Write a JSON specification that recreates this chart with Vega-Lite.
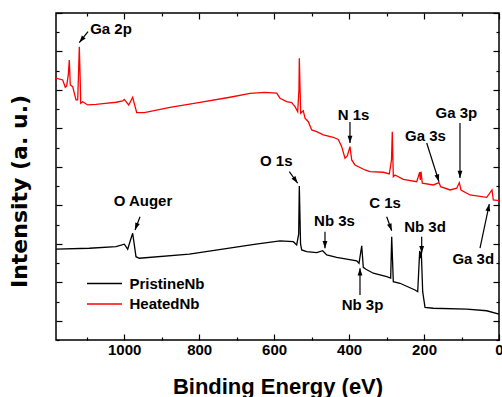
{
  "$schema": "https://vega.github.io/schema/vega-lite/v6.json",
  "width": 443,
  "height": 327,
  "autosize": {"type": "none"},
  "padding": {"left": 56, "top": 13, "right": 3, "bottom": 57},
  "background": "white",
  "config": {
    "view": {"stroke": "black", "strokeWidth": 1.5},
    "axis": {"tickColor": "black", "tickWidth": 1.2, "domain": false, "grid": false}
  },
  "datasets": {
    "spectra": [
      {"s": "HeatedNb", "E": 1182.0, "I": 13.61},
      {"s": "HeatedNb", "E": 1164.1, "I": 13.52},
      {"s": "HeatedNb", "E": 1157.2, "I": 13.14},
      {"s": "HeatedNb", "E": 1153.5, "I": 13.21},
      {"s": "HeatedNb", "E": 1149.2, "I": 13.78},
      {"s": "HeatedNb", "E": 1146.5, "I": 14.56},
      {"s": "HeatedNb", "E": 1143.9, "I": 13.26},
      {"s": "HeatedNb", "E": 1137.5, "I": 13.17},
      {"s": "HeatedNb", "E": 1128.6, "I": 12.48},
      {"s": "HeatedNb", "E": 1124.1, "I": 12.48},
      {"s": "HeatedNb", "E": 1122.0, "I": 13.78},
      {"s": "HeatedNb", "E": 1119.8, "I": 15.25},
      {"s": "HeatedNb", "E": 1117.4, "I": 13.52},
      {"s": "HeatedNb", "E": 1116.1, "I": 12.31},
      {"s": "HeatedNb", "E": 1110.8, "I": 12.39},
      {"s": "HeatedNb", "E": 1097.5, "I": 12.22},
      {"s": "HeatedNb", "E": 1075.3, "I": 12.25},
      {"s": "HeatedNb", "E": 1050.0, "I": 12.3},
      {"s": "HeatedNb", "E": 1021.9, "I": 12.36},
      {"s": "HeatedNb", "E": 1004.1, "I": 12.43},
      {"s": "HeatedNb", "E": 999.8, "I": 12.51},
      {"s": "HeatedNb", "E": 988.0, "I": 12.22},
      {"s": "HeatedNb", "E": 977.4, "I": 12.62},
      {"s": "HeatedNb", "E": 966.7, "I": 11.82},
      {"s": "HeatedNb", "E": 946.4, "I": 11.82},
      {"s": "HeatedNb", "E": 877.8, "I": 12.09},
      {"s": "HeatedNb", "E": 797.8, "I": 12.35},
      {"s": "HeatedNb", "E": 717.8, "I": 12.62},
      {"s": "HeatedNb", "E": 664.4, "I": 12.82},
      {"s": "HeatedNb", "E": 624.4, "I": 12.87},
      {"s": "HeatedNb", "E": 593.1, "I": 12.83},
      {"s": "HeatedNb", "E": 584.3, "I": 12.57},
      {"s": "HeatedNb", "E": 566.5, "I": 12.39},
      {"s": "HeatedNb", "E": 553.1, "I": 12.34},
      {"s": "HeatedNb", "E": 544.3, "I": 12.13},
      {"s": "HeatedNb", "E": 537.1, "I": 11.87},
      {"s": "HeatedNb", "E": 533.8, "I": 13.0},
      {"s": "HeatedNb", "E": 532.8, "I": 14.65},
      {"s": "HeatedNb", "E": 529.1, "I": 11.79},
      {"s": "HeatedNb", "E": 522.2, "I": 11.92},
      {"s": "HeatedNb", "E": 517.6, "I": 11.53},
      {"s": "HeatedNb", "E": 508.8, "I": 11.35},
      {"s": "HeatedNb", "E": 499.8, "I": 10.92},
      {"s": "HeatedNb", "E": 486.4, "I": 10.83},
      {"s": "HeatedNb", "E": 468.8, "I": 10.66},
      {"s": "HeatedNb", "E": 442.1, "I": 10.54},
      {"s": "HeatedNb", "E": 428.8, "I": 10.43},
      {"s": "HeatedNb", "E": 419.7, "I": 10.05},
      {"s": "HeatedNb", "E": 410.9, "I": 9.45},
      {"s": "HeatedNb", "E": 404.8, "I": 9.57},
      {"s": "HeatedNb", "E": 397.6, "I": 10.05},
      {"s": "HeatedNb", "E": 393.0, "I": 9.36},
      {"s": "HeatedNb", "E": 384.2, "I": 9.1},
      {"s": "HeatedNb", "E": 357.5, "I": 8.84},
      {"s": "HeatedNb", "E": 344.2, "I": 8.75},
      {"s": "HeatedNb", "E": 308.7, "I": 8.72},
      {"s": "HeatedNb", "E": 292.7, "I": 8.63},
      {"s": "HeatedNb", "E": 286.8, "I": 9.36},
      {"s": "HeatedNb", "E": 284.7, "I": 10.83},
      {"s": "HeatedNb", "E": 282.0, "I": 8.49},
      {"s": "HeatedNb", "E": 277.5, "I": 8.58},
      {"s": "HeatedNb", "E": 255.3, "I": 8.35},
      {"s": "HeatedNb", "E": 219.6, "I": 8.23},
      {"s": "HeatedNb", "E": 211.6, "I": 8.73},
      {"s": "HeatedNb", "E": 210.0, "I": 8.32},
      {"s": "HeatedNb", "E": 208.1, "I": 8.75},
      {"s": "HeatedNb", "E": 204.7, "I": 8.15},
      {"s": "HeatedNb", "E": 175.3, "I": 8.06},
      {"s": "HeatedNb", "E": 160.1, "I": 8.18},
      {"s": "HeatedNb", "E": 155.6, "I": 7.97},
      {"s": "HeatedNb", "E": 130.7, "I": 7.8},
      {"s": "HeatedNb", "E": 112.9, "I": 7.89},
      {"s": "HeatedNb", "E": 105.9, "I": 8.18},
      {"s": "HeatedNb", "E": 101.4, "I": 7.8},
      {"s": "HeatedNb", "E": 77.4, "I": 7.54},
      {"s": "HeatedNb", "E": 32.8, "I": 7.42},
      {"s": "HeatedNb", "E": 18.7, "I": 7.8},
      {"s": "HeatedNb", "E": 15.2, "I": 7.28},
      {"s": "HeatedNb", "E": 0.0, "I": 7.25},
      {"s": "PristineNb", "E": 1182.0, "I": 4.72},
      {"s": "PristineNb", "E": 1093.2, "I": 4.77},
      {"s": "PristineNb", "E": 1021.9, "I": 4.85},
      {"s": "PristineNb", "E": 999.8, "I": 4.98},
      {"s": "PristineNb", "E": 990.7, "I": 4.72},
      {"s": "PristineNb", "E": 983.2, "I": 5.2},
      {"s": "PristineNb", "E": 977.4, "I": 5.55},
      {"s": "PristineNb", "E": 968.6, "I": 4.33},
      {"s": "PristineNb", "E": 959.8, "I": 4.25},
      {"s": "PristineNb", "E": 826.4, "I": 4.46},
      {"s": "PristineNb", "E": 648.4, "I": 4.98},
      {"s": "PristineNb", "E": 584.3, "I": 5.15},
      {"s": "PristineNb", "E": 548.8, "I": 5.11},
      {"s": "PristineNb", "E": 539.8, "I": 4.94},
      {"s": "PristineNb", "E": 534.5, "I": 5.5},
      {"s": "PristineNb", "E": 532.8, "I": 8.01},
      {"s": "PristineNb", "E": 529.5, "I": 5.0},
      {"s": "PristineNb", "E": 526.5, "I": 4.68},
      {"s": "PristineNb", "E": 513.1, "I": 4.59},
      {"s": "PristineNb", "E": 486.4, "I": 4.54},
      {"s": "PristineNb", "E": 470.4, "I": 4.64},
      {"s": "PristineNb", "E": 459.7, "I": 4.42},
      {"s": "PristineNb", "E": 433.1, "I": 4.3},
      {"s": "PristineNb", "E": 379.7, "I": 4.12},
      {"s": "PristineNb", "E": 373.5, "I": 3.99},
      {"s": "PristineNb", "E": 366.3, "I": 4.9},
      {"s": "PristineNb", "E": 362.1, "I": 3.78},
      {"s": "PristineNb", "E": 354.9, "I": 3.68},
      {"s": "PristineNb", "E": 335.4, "I": 3.47},
      {"s": "PristineNb", "E": 299.6, "I": 3.29},
      {"s": "PristineNb", "E": 289.0, "I": 3.22},
      {"s": "PristineNb", "E": 286.3, "I": 5.37},
      {"s": "PristineNb", "E": 282.0, "I": 3.03},
      {"s": "PristineNb", "E": 264.2, "I": 2.95},
      {"s": "PristineNb", "E": 224.1, "I": 2.6},
      {"s": "PristineNb", "E": 216.9, "I": 2.51},
      {"s": "PristineNb", "E": 211.6, "I": 4.63},
      {"s": "PristineNb", "E": 209.5, "I": 4.26},
      {"s": "PristineNb", "E": 207.3, "I": 4.58},
      {"s": "PristineNb", "E": 203.6, "I": 2.51},
      {"s": "PristineNb", "E": 197.4, "I": 1.7},
      {"s": "PristineNb", "E": 175.3, "I": 1.65},
      {"s": "PristineNb", "E": 86.2, "I": 1.6},
      {"s": "PristineNb", "E": 32.8, "I": 1.52},
      {"s": "PristineNb", "E": 0.0, "I": 1.34}
    ],
    "labels": [
      {"t": "Ga 2p", "E": 1035.3, "V": 16.17},
      {"t": "N 1s", "E": 388.2, "V": 11.7},
      {"t": "Ga 3s", "E": 196.1, "V": 10.61},
      {"t": "Ga 3p", "E": 113.9, "V": 11.8},
      {"t": "O 1s", "E": 594.2, "V": 9.31},
      {"t": "Nb 3s", "E": 438.9, "V": 6.2},
      {"t": "C 1s", "E": 304.2, "V": 7.11},
      {"t": "Nb 3d", "E": 197.4, "V": 5.89},
      {"t": "Ga 3d", "E": 68.6, "V": 4.2},
      {"t": "Nb 3p", "E": 364.2, "V": 1.82},
      {"t": "O Auger", "E": 949.9, "V": 7.23}
    ],
    "arrows": [
      {"x1": 1096.6, "y1": 16.03, "x2": 1119.8, "y2": 15.46},
      {"x1": 397.6, "y1": 11.33, "x2": 397.6, "y2": 10.24},
      {"x1": 192.9, "y1": 10.24, "x2": 160.1, "y2": 8.23},
      {"x1": 104.1, "y1": 11.28, "x2": 104.1, "y2": 8.42},
      {"x1": 559.5, "y1": 8.75, "x2": 537.1, "y2": 8.15},
      {"x1": 464.3, "y1": 5.63, "x2": 464.3, "y2": 4.77},
      {"x1": 299.6, "y1": 6.41, "x2": 286.3, "y2": 5.68},
      {"x1": 206.3, "y1": 5.37, "x2": 206.3, "y2": 4.51},
      {"x1": 50.7, "y1": 4.77, "x2": 25.9, "y2": 7.07},
      {"x1": 370.9, "y1": 2.34, "x2": 370.9, "y2": 3.73},
      {"x1": 957.9, "y1": 6.41, "x2": 971.2, "y2": 5.72}
    ]
  },
  "layer": [
    {
      "data": {"name": "spectra"},
      "mark": {"type": "line", "strokeWidth": 1.3},
      "encoding": {
        "x": {
          "field": "E", "type": "quantitative",
          "scale": {"domain": [0, 1182], "reverse": true, "nice": false, "zero": false},
          "axis": {
            "orient": "bottom",
            "values": [0, 100, 200, 300, 400, 500, 600, 700, 800, 900, 1000, 1100],
            "format": "d",
            "tickSize": {"condition": {"test": "datum.value % 200 === 0", "value": -6}, "value": -3},
            "labelExpr": "datum.value % 200 === 0 ? datum.label : ''",
            "labelFont": "Liberation Sans", "labelFontSize": 15, "labelFontWeight": "bold", "labelColor": "black",
            "labelPadding": 8, "labelFlush": false, "labelOverlap": false, "labelBound": false,
            "title": "Binding Energy (eV)",
            "titleFont": "Liberation Sans", "titleFontSize": 22, "titleFontWeight": "bold", "titleColor": "black",
            "titleX": 221.5, "titleY": 46, "titleBaseline": "middle", "titleAlign": "center"
          }
        },
        "y": {
          "field": "I", "type": "quantitative",
          "scale": {"domain": [0, 17], "nice": false, "zero": false},
          "axis": {
            "orient": "left",
            "values": [0, 1, 2, 3, 4, 5, 6, 7, 8, 9, 10, 11, 12, 13, 14, 15, 16, 17],
            "tickSize": {"condition": {"test": "datum.value % 2 === 1", "value": -6}, "value": -3},
            "labels": false,
            "title": "Intensity (a. u.)",
            "titleFont": "DejaVu Sans", "titleFontSize": 22, "titleFontWeight": "bold", "titleColor": "black",
            "titleX": -37, "titleY": 178, "titleAngle": 270, "titleBaseline": "middle", "titleAlign": "center"
          }
        },
        "color": {
          "field": "s", "type": "nominal",
          "scale": {"domain": ["PristineNb", "HeatedNb"], "range": ["#000000", "#ff0000"]},
          "legend": {
            "orient": "none", "legendX": 41, "legendY": 263, "title": null, "padding": 0,
            "symbolType": "M-3.5,0H3.5", "symbolSize": 100, "symbolStrokeWidth": 1.5,
            "labelFont": "Liberation Sans", "labelFontSize": 15, "labelFontWeight": "bold", "labelColor": "black",
            "labelOffset": 17.5, "rowPadding": 4.5
          }
        }
      }
    },
    {
      "data": {"name": "spectra"},
      "mark": {"type": "point", "opacity": 0},
      "encoding": {
        "x": {
          "field": "E", "type": "quantitative",
          "scale": {"domain": [0, 1182], "reverse": true, "nice": false, "zero": false},
          "axis": {
            "orient": "top",
            "values": [0, 100, 200, 300, 400, 500, 600, 700, 800, 900, 1000, 1100],
            "tickSize": {"condition": {"test": "datum.value % 200 === 0", "value": -6}, "value": -3},
            "labels": false, "title": null
          }
        },
        "y": {
          "field": "I", "type": "quantitative",
          "scale": {"domain": [0, 17], "nice": false, "zero": false},
          "axis": {
            "orient": "right",
            "values": [0, 1, 2, 3, 4, 5, 6, 7, 8, 9, 10, 11, 12, 13, 14, 15, 16, 17],
            "tickSize": {"condition": {"test": "datum.value % 2 === 1", "value": -6}, "value": -3},
            "labels": false, "title": null
          }
        }
      }
    },
    {
      "data": {"name": "arrows"},
      "mark": {"type": "rule", "color": "black", "strokeWidth": 1.2},
      "encoding": {
        "x": {"field": "x1", "type": "quantitative", "scale": {"domain": [0, 1182], "reverse": true, "nice": false, "zero": false}, "axis": null},
        "y": {"field": "y1", "type": "quantitative", "scale": {"domain": [0, 17], "nice": false, "zero": false}, "axis": null},
        "x2": {"field": "x2"},
        "y2": {"field": "y2"}
      }
    },
    {
      "data": {"name": "arrows"},
      "transform": [
        {"calculate": "atan2(-(datum.x2 - datum.x1) * 0.3748, (datum.y2 - datum.y1) * 19.235) * 180 / PI", "as": "ang"}
      ],
      "mark": {"type": "point", "shape": "M0,0L-0.8,2.4L0.8,2.4Z", "filled": true, "size": 36, "color": "black", "opacity": 1, "strokeWidth": 0},
      "encoding": {
        "x": {"field": "x2", "type": "quantitative", "scale": {"domain": [0, 1182], "reverse": true, "nice": false, "zero": false}, "axis": null},
        "y": {"field": "y2", "type": "quantitative", "scale": {"domain": [0, 17], "nice": false, "zero": false}, "axis": null},
        "angle": {"field": "ang", "type": "quantitative", "scale": null}
      }
    },
    {
      "data": {"name": "labels"},
      "mark": {"type": "text", "font": "Liberation Sans", "fontSize": 15, "fontWeight": "bold", "color": "black", "align": "center", "baseline": "middle"},
      "encoding": {
        "x": {"field": "E", "type": "quantitative", "scale": {"domain": [0, 1182], "reverse": true, "nice": false, "zero": false}, "axis": null},
        "y": {"field": "V", "type": "quantitative", "scale": {"domain": [0, 17], "nice": false, "zero": false}, "axis": null},
        "text": {"field": "t", "type": "nominal"}
      }
    }
  ],
  "resolve": {"axis": {"x": "independent", "y": "independent"}}
}
